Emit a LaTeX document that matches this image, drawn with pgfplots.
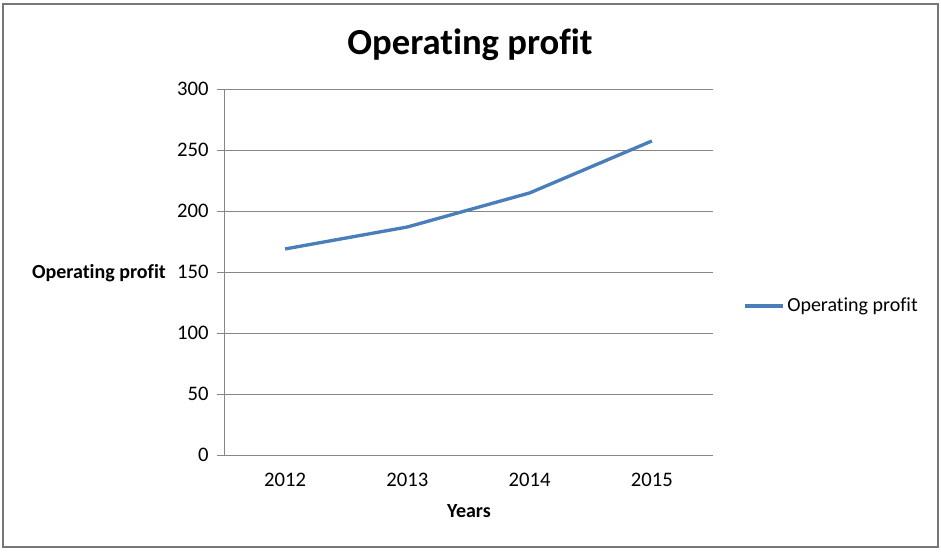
\documentclass[border=0pt]{standalone}
\usepackage{pgfplots}
\pgfplotsset{compat=1.18}
\usepackage{fontspec}
\setmainfont{Carlito}[Ligatures=NoCommon]
\definecolor{lineblue}{RGB}{74,126,187}
\definecolor{gridgray}{RGB}{134,134,134}
\definecolor{framegray}{RGB}{118,118,118}
\begin{document}
\begin{tikzpicture}[x=0.75pt,y=0.75pt]
\path[use as bounding box] (0,0) rectangle (941,551);
\draw[framegray,line width=1.5pt] (3,4) rectangle (938,547);
\begin{axis}[
  at={(168pt,72pt)}, anchor=south west,
  scale only axis,
  width=366.75pt, height=274.5pt,
  xmin=-0.5, xmax=3.5, ymin=0, ymax=300,
  xtick={0,1,2,3}, xticklabels={2012,2013,2014,2015},
  extra x ticks={-0.5,0.5,1.5,2.5,3.5}, extra x tick labels={},
  extra x tick style={major tick length=5pt, tick align=outside, tick style={gridgray, line width=0.75pt}, grid=none},
  xtick style={draw=none},
  ytick={0,50,...,300},
  ymajorgrids, grid style={gridgray, line width=0.75pt},
  axis x line*=bottom, axis y line*=left,
  axis line style={gridgray, line width=0.75pt, -},
  y tick style={gridgray, line width=0.75pt},
  major tick length=5pt, tick align=outside,
  ticklabel style={font=\fontsize{15.5}{17}\selectfont},
  yticklabel style={xshift=-3pt},
  xticklabel style={yshift=-5pt},
  /pgf/number format/assume math mode=true,
  clip=false,
]
\addplot[lineblue, line width=2.5pt, line join=round] coordinates {(0,168.9) (1,186.9) (2,214.8) (3,257.4)};
\end{axis}
\node[font=\bfseries\fontsize{27.5}{32}\selectfont] at (470,506) {Operating profit};
\node[font=\bfseries\fontsize{15}{17}\selectfont] at (99,278) {Operating profit};
\node[font=\bfseries\fontsize{15}{17}\selectfont] at (469,40) {Years};
\draw[lineblue, line width=2.5pt] (745,245) -- (783,245);
\node[anchor=west, inner sep=0pt, font=\fontsize{15}{17}\selectfont] at (787,245) {Operating profit};
\end{tikzpicture}
\end{document}
